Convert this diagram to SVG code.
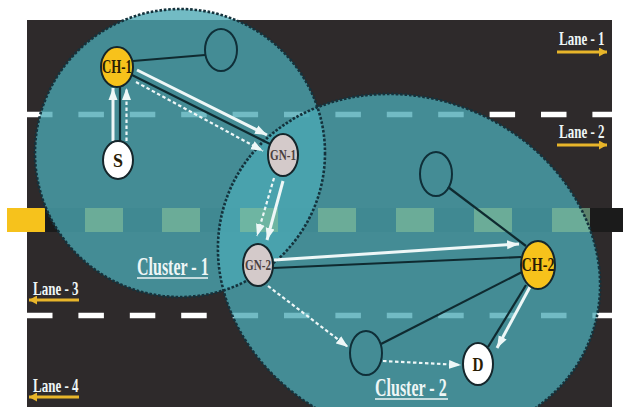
<svg xmlns="http://www.w3.org/2000/svg" width="623" height="407" viewBox="0 0 623 407">
<defs>
<style>
.road{fill:#2e2a2b}
.median{fill:#1b1b1b}
.lane{stroke:#ffffff;stroke-width:5.5;stroke-dasharray:25.5 25.9;fill:none}
.cl{fill:#4aa8b3;fill-opacity:0.78}
.clb{fill:none;stroke:#14323c;stroke-width:2.6;stroke-dasharray:2.6 1.8}
.gd{fill:#86c29c;fill-opacity:0.62}
.dk{stroke:#0f2a30;stroke-width:2.2;fill:none}
.ws{stroke:#eef7f7;stroke-width:3;fill:none;marker-end:url(#wa)}
.wd{stroke:#eef7f7;stroke-width:2.2;stroke-dasharray:3.5 2.5;fill:none;marker-end:url(#wa)}
.nb{stroke:#15262b;stroke-width:2}
.ch{fill:#f7c21b}
.gn{fill:#d4caca}
.wt{fill:#ffffff}
.em{fill:none;stroke:#0f2f38;stroke-width:2}
.nt{font-family:"Liberation Serif",serif;font-weight:bold;text-anchor:middle;fill:#2a1d05}
.gt{font-family:"Liberation Serif",serif;font-weight:bold;text-anchor:middle;fill:#4a4040}
.lbl{font-family:"Liberation Serif",serif;font-weight:bold;fill:#eef6f6}
.ly{stroke:#e8b52a;stroke-width:3;fill:none}
</style>
<marker id="wa" markerUnits="userSpaceOnUse" markerWidth="13" markerHeight="10" refX="12" refY="5" orient="auto">
<path d="M0,0.5 L12,5 L0,9.5 z" fill="#eef7f7"/>
</marker>
<marker id="ya" markerUnits="userSpaceOnUse" markerWidth="9" markerHeight="9" refX="8" refY="4.5" orient="auto">
<path d="M0,0 L8,4.5 L0,9 z" fill="#e8b52a"/>
</marker>
</defs>
<rect x="0" y="0" width="623" height="407" fill="#ffffff"/>
<g id="road">
<rect class="road" x="27" y="20" width="585" height="387"/>
<rect class="median" x="45" y="208" width="578" height="24"/>
<rect x="7" y="208" width="38" height="24" fill="#f6c21c"/>
<line class="lane" x1="27" y1="114.5" x2="612" y2="114.5"/>
<line class="lane" x1="27" y1="315.5" x2="612" y2="315.5"/>
</g>
<g id="clusters">
<ellipse class="cl" cx="180" cy="153" rx="145" ry="144"/>
<ellipse class="cl" cx="0" cy="0" rx="190" ry="173" transform="translate(409 267) skewX(6.7)"/>
<g id="median-dashes">
<rect class="gd" x="85" y="208" width="38" height="24"/>
<rect class="gd" x="162" y="208" width="38" height="24"/>
<rect class="gd" x="240" y="208" width="38" height="24" fill-opacity="0.15"/>
<rect class="gd" x="318" y="208" width="38" height="24"/>
<rect class="gd" x="396" y="208" width="38" height="24"/>
<rect class="gd" x="474" y="208" width="38" height="24"/>
<rect class="gd" x="552" y="208" width="38" height="24"/>
</g>
<ellipse class="clb" cx="180" cy="153" rx="145" ry="144"/>
<ellipse class="clb" cx="0" cy="0" rx="190" ry="173" transform="translate(409 267) skewX(6.7)"/>
</g>
<g id="connectors">
<line class="dk" x1="133" y1="61" x2="205" y2="55"/>
<line class="dk" x1="120" y1="141" x2="120" y2="87"/>
<line class="ws" x1="113" y1="141" x2="113" y2="88"/>
<line class="wd" x1="126.5" y1="141" x2="126.5" y2="88"/>
<line class="dk" x1="132" y1="75" x2="270" y2="144"/>
<line class="ws" x1="137" y1="70" x2="267" y2="135"/>
<line class="wd" x1="136" y1="82" x2="263" y2="151"/>
<line class="wd" x1="274" y1="178" x2="257" y2="236"/>
<line class="ws" x1="283" y1="181" x2="267" y2="240"/>
<line class="dk" x1="273" y1="268" x2="521" y2="257"/>
<line class="ws" x1="274" y1="260" x2="519" y2="244"/>
<line class="dk" x1="448" y1="187" x2="526" y2="246"/>
<line class="dk" x1="522" y1="272" x2="381" y2="344"/>
<line class="dk" x1="526" y1="285" x2="488" y2="347"/>
<line class="ws" x1="531" y1="285" x2="497" y2="348"/>
<line class="wd" x1="268" y1="286" x2="348" y2="347"/>
<line class="wd" x1="383" y1="361" x2="461" y2="365"/>
</g>
<g id="CH-1"><ellipse class="nb ch" cx="117" cy="67" rx="16" ry="20"/><text class="nt" x="117" y="73" font-size="18" textLength="30" lengthAdjust="spacingAndGlyphs">CH-1</text></g>
<g id="N1"><ellipse class="em" cx="221" cy="50" rx="16" ry="21"/></g>
<g id="S"><ellipse class="nb wt" cx="118" cy="160" rx="15" ry="19"/><text class="nt" x="118" y="167" font-size="19" textLength="10" lengthAdjust="spacingAndGlyphs">S</text></g>
<g id="GN-1"><ellipse class="nb gn" cx="283" cy="155" rx="15" ry="21"/><text class="gt" x="283" y="160" font-size="14" textLength="26" lengthAdjust="spacingAndGlyphs">GN-1</text></g>
<g id="GN-2"><ellipse class="nb gn" cx="258" cy="265" rx="15" ry="21"/><text class="gt" x="258" y="270" font-size="14" textLength="26" lengthAdjust="spacingAndGlyphs">GN-2</text></g>
<g id="CH-2"><ellipse class="nb ch" cx="538" cy="265" rx="17" ry="24"/><text class="nt" x="538" y="271" font-size="19" textLength="33" lengthAdjust="spacingAndGlyphs">CH-2</text></g>
<g id="N2"><ellipse class="em" cx="436" cy="174" rx="16" ry="22"/></g>
<g id="N3"><ellipse class="em" cx="366" cy="353" rx="16" ry="22"/></g>
<g id="D"><ellipse class="nb wt" cx="478" cy="364" rx="15" ry="21"/><text class="nt" x="478" y="371" font-size="18" textLength="11" lengthAdjust="spacingAndGlyphs">D</text></g>
<g id="labels">
<text class="lbl" font-size="16" transform="translate(137 275) scale(1 1.55)">Cluster - 1</text>
<line x1="137" y1="278" x2="208" y2="278" stroke="#eef6f6" stroke-width="1.3"/>
<text class="lbl" font-size="16" transform="translate(375 396) scale(1 1.55)">Cluster - 2</text>
<line x1="375" y1="399" x2="448" y2="399" stroke="#eef6f6" stroke-width="1.3"/>
<text class="lbl" font-size="13" transform="translate(559 45) scale(1 1.45)">Lane - 1</text>
<line class="ly" x1="557" y1="52" x2="607" y2="52" marker-end="url(#ya)"/>
<text class="lbl" font-size="13" transform="translate(559 138) scale(1 1.45)">Lane - 2</text>
<line class="ly" x1="557" y1="145" x2="607" y2="145" marker-end="url(#ya)"/>
<text class="lbl" font-size="13" transform="translate(33 295) scale(1 1.45)">Lane - 3</text>
<line class="ly" x1="79" y1="300" x2="29" y2="300" marker-end="url(#ya)"/>
<text class="lbl" font-size="13" transform="translate(33 392) scale(1 1.45)">Lane - 4</text>
<line class="ly" x1="79" y1="397" x2="29" y2="397" marker-end="url(#ya)"/>
</g>
</svg>
